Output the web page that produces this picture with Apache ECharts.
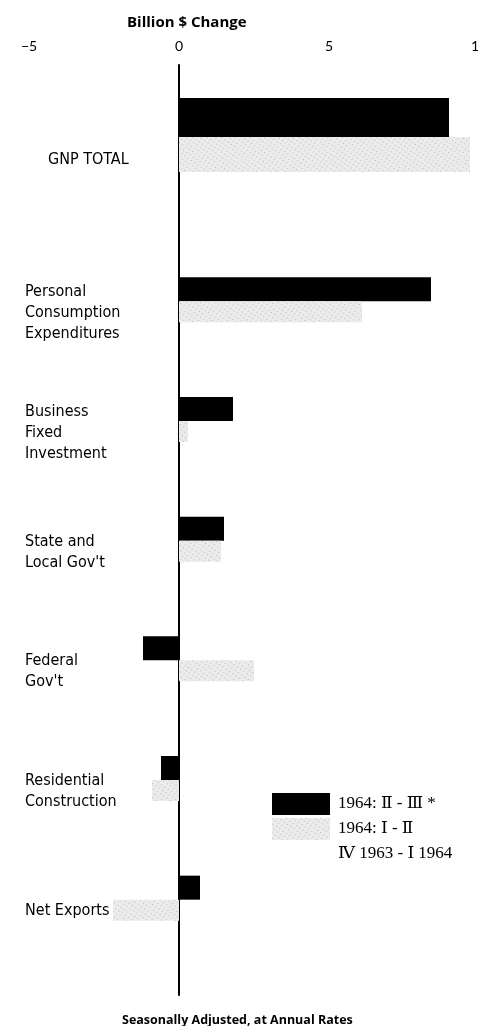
<!DOCTYPE html>
<html>
<head>
<meta charset="utf-8">
<script src="https://cdn.jsdelivr.net/npm/echarts@6/dist/echarts.min.js"></script>
<style>
  html, body { margin: 0; padding: 0; background: #fff; }
  #main { width: 478px; height: 1026px; }
</style>
</head>
<body>
<div id="main"></div>
<script>
// GNP change by component, billion $, seasonally adjusted annual rates
var totalName = ['GNP TOTAL'];
var partNames = [
  'Personal\nConsumption\nExpenditures',
  'Business\nFixed\nInvestment',
  'State and\nLocal Gov\'t',
  'Federal\nGov\'t',
  'Residential\nConstruction',
  'Net Exports'
];
var seriesNames = ['1964: Ⅱ - Ⅲ *', '1964: Ⅰ - Ⅱ', 'Ⅳ 1963 - Ⅰ 1964'];

var totalQ2Q3 = [9.0];
var totalQ1Q2 = [9.7];
var partQ2Q3 = [8.4, 1.8, 1.5, -1.2, -0.6, 0.7];
var partQ1Q2 = [6.1, 0.3, 1.4, 2.5, -0.9, -2.2];

var xTicks = [-5, 0, 5, 10];

var chart = echarts.init(document.getElementById('main'));

var stipple = {
  color: '#ebebeb',
  decal: {
    symbol: 'rect',
    symbolSize: 1,
    color: 'rgba(0,0,0,0.22)',
    dashArrayX: [1, 3],
    dashArrayY: [1, 3],
    rotation: 0.6
  }
};

function hiddenX(idx) {
  return {
    type: 'value', gridIndex: idx, min: xTicks[0], max: xTicks[xTicks.length - 1],
    interval: 5, show: false
  };
}

// labels sit a little below the bar pair, so a blank spacer line is put on top
function catY(idx, names, margin, drop) {
  return {
    type: 'category', gridIndex: idx, data: names, inverse: true,
    axisLine: { show: false }, axisTick: { show: false },
    axisLabel: {
      align: 'left', margin: margin, color: '#000',
      fontFamily: 'DejaVu Sans', fontWeight: 'condensed', fontSize: 16, lineHeight: 21,
      formatter: function (v) { return '{s| }\n' + v; },
      rich: { s: { height: drop, fontSize: 2, lineHeight: drop } }
    }
  };
}

var option = {
  animation: false,
  backgroundColor: '#fff',
  title: [{
    text: 'Billion $ Change',
    left: 122, top: 10,
    textStyle: { fontFamily: '"Open Sans", sans-serif', fontWeight: 'bold', fontSize: 15, color: '#000' }
  }, {
    text: 'Seasonally Adjusted, at Annual Rates',
    left: 117, top: 1009,
    textStyle: { fontFamily: '"Open Sans", sans-serif', fontWeight: 'bold', fontSize: 12.5, color: '#000' }
  }],
  legend: {
    orient: 'vertical',
    left: 272, top: 793, padding: 0,
    itemWidth: 58, itemHeight: 22, itemGap: 3,
    selectedMode: false,
    data: [
      { name: seriesNames[0], icon: 'rect' },
      { name: seriesNames[1], icon: 'rect' },
      { name: seriesNames[2], icon: 'none' }
    ],
    textStyle: { fontFamily: '"Liberation Serif", "DejaVu Serif", serif', fontSize: 17, color: '#000', padding: [0, 0, 0, 3] }
  },
  grid: [
    { left: 29, width: 450, top: 65, height: 930, outerBoundsMode: 'none' },
    { left: 29, width: 450, top: 65, height: 140, outerBoundsMode: 'none' },
    { left: 29, width: 450, top: 240, height: 718, outerBoundsMode: 'none' }
  ],
  xAxis: [
    {
      type: 'value', gridIndex: 0, position: 'top',
      min: xTicks[0], max: xTicks[xTicks.length - 1], interval: 5,
      axisLine: { show: false }, axisTick: { show: false }, splitLine: { show: false },
      axisLabel: {
        margin: 12, color: '#000', fontSize: 14, fontFamily: 'Lato, sans-serif',
        formatter: function (v) { return v < 0 ? '\u2212' + Math.abs(v) : String(v); }
      }
    },
    hiddenX(1),
    hiddenX(2)
  ],
  yAxis: [
    {
      type: 'value', gridIndex: 0, min: 0, max: 1,
      axisLine: { show: true, onZero: true, lineStyle: { color: '#000', width: 2 } },
      axisTick: { show: false }, axisLabel: { show: false }, splitLine: { show: false }
    },
    catY(1, totalName, -19, 50),
    catY(2, partNames, 4, 26)
  ],
  series: [
    {
      name: seriesNames[0], type: 'bar', xAxisIndex: 1, yAxisIndex: 1,
      data: totalQ2Q3, barWidth: 39, barGap: '0%',
      itemStyle: { color: '#000' }
    },
    {
      name: seriesNames[1], type: 'bar', xAxisIndex: 1, yAxisIndex: 1,
      data: totalQ1Q2, barWidth: 35, barGap: '0%',
      itemStyle: stipple
    },
    {
      name: seriesNames[0], type: 'bar', xAxisIndex: 2, yAxisIndex: 2,
      data: partQ2Q3, barWidth: 24, barGap: '0%',
      itemStyle: { color: '#000' }
    },
    {
      name: seriesNames[1], type: 'bar', xAxisIndex: 2, yAxisIndex: 2,
      data: partQ1Q2, barWidth: 21, barGap: '0%',
      itemStyle: stipple
    },
    {
      // third period is listed in the legend but shows no visible bars
      name: seriesNames[2], type: 'line', xAxisIndex: 2, yAxisIndex: 2,
      data: [], itemStyle: { color: '#fff' }
    }
  ]
};

chart.setOption(option);
</script>
</body>
</html>
